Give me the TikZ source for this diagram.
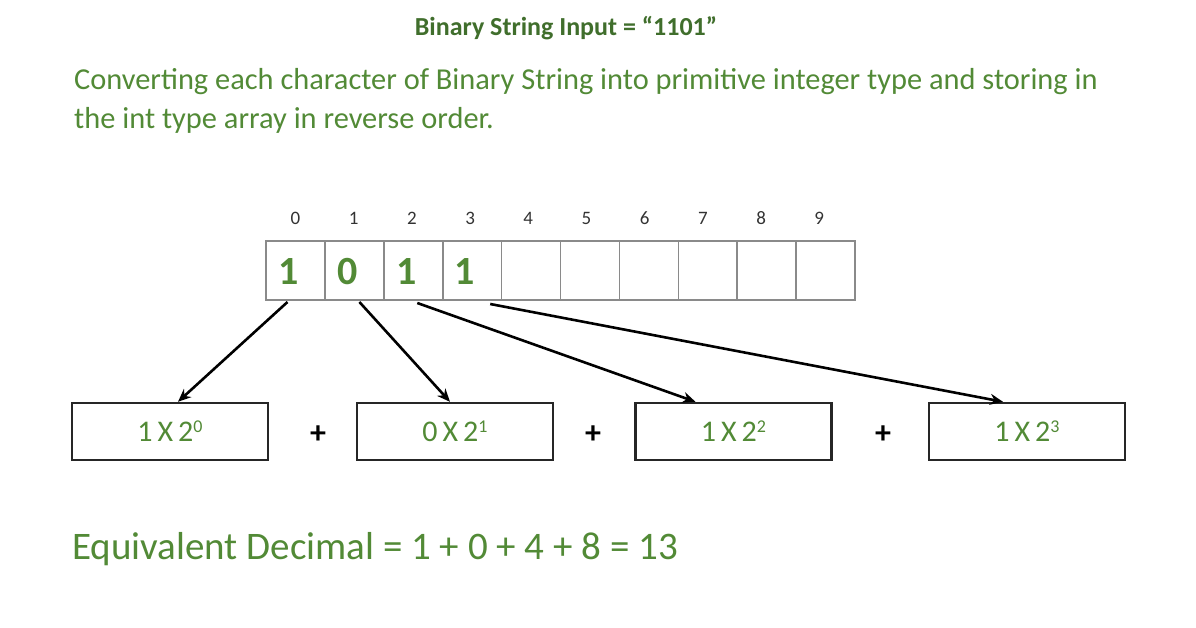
\documentclass[tikz,border=0pt]{standalone}
\usepackage{fontspec}
\setmainfont{Carlito}
\usetikzlibrary{arrows.meta,positioning}
\definecolor{gtext}{HTML}{528A36}
\definecolor{gdark}{HTML}{406E2C}
\definecolor{cellgray}{HTML}{8A8A8A}
\tikzset{
  cellbox/.style={draw=cellgray,line width=1.6pt,minimum width=58.9pt,minimum height=59pt,inner sep=0pt,outer sep=0pt},
  idx/.style={font=\fontsize{19}{21}\selectfont,text=black!80},
  digit/.style={font=\fontsize{40}{44}\selectfont\bfseries,text=gtext,anchor=west,inner sep=0pt},
  termbox/.style={draw=black!85,line width=2.4pt,minimum width=196pt,minimum height=57pt,inner sep=0pt,font=\fontsize{30}{34}\selectfont,text=gtext},
  plus/.style={font=\fontsize{32}{34}\selectfont\bfseries,text=black},
  conn/.style={draw=black,line width=2.6pt,-{Stealth[length=13pt,width=11pt]}}
}
\newcommand{\pw}[1]{\raisebox{0.3em}{\fontsize{18}{19}\selectfont #1}}
\begin{document}
\begin{tikzpicture}[x=1pt,y=-1pt]
\useasboundingbox (0,0) rectangle (1196,628);
\node (title) at (566,28) {\fontsize{26}{30}\selectfont\bfseries\color{gdark}Binary String Input = “1101”};
\node[anchor=west,align=left,text=gtext,font=\fontsize{30.4}{39}\selectfont,inner sep=0pt] (para) at (74,101) {Converting each character of Binary String into primitive integer type and storing in\\the int type array in reverse order.};
% array cells
\foreach \i in {0,...,9}{
  \node[cellbox] (c\i) at ({295.5+58.9*\i},270.5) {};
  \node[idx] (i\i) at ({295.5+58.9*\i-0.7*\i},218) {\i};
}
\node[digit] (d0) at ([xshift=12pt,yshift=-1pt]c0.west) {1};
\node[digit] (d1) at ([xshift=12pt,yshift=-1pt]c1.west) {0};
\node[digit] (d2) at ([xshift=12pt,yshift=-1pt]c2.west) {1};
\node[digit] (d3) at ([xshift=12pt,yshift=-1pt]c3.west) {1};
% term boxes
\node[termbox] (b0) at (170,431.5) {1\,X\,2\pw{0}};
\node[termbox] (b1) at (455,431.5) {0\,X\,2\pw{1}};
\node[termbox] (b2) at (733.5,431.5) {1\,X\,2\pw{2}};
\node[termbox] (b3) at (1027,431.5) {1\,X\,2\pw{3}};
\node[plus] (p0) at (318,435) {+};
\node[plus] (p1) at (593,435) {+};
\node[plus] (p2) at (883,435) {+};
% connectors
\draw[conn] ([xshift=-8pt,yshift=-2pt]c0.south) -- ([xshift=8pt]b0.north);
\draw[conn] ([xshift=5pt,yshift=-2pt]c1.south) -- ([xshift=-5pt]b1.north);
\draw[conn] ([xshift=4pt,yshift=-3pt]c2.south) -- ([xshift=-38pt]b2.north);
\draw[conn] ([xshift=18pt,yshift=-4pt]c3.south) -- ([xshift=-24pt]b3.north);
% result
\node[anchor=west,inner sep=0pt,text=gtext,font=\fontsize{39}{44}\selectfont] (res) at (72,549) {Equivalent Decimal = 1 + 0 + 4 + 8 = 13};
\end{tikzpicture}
\end{document}
